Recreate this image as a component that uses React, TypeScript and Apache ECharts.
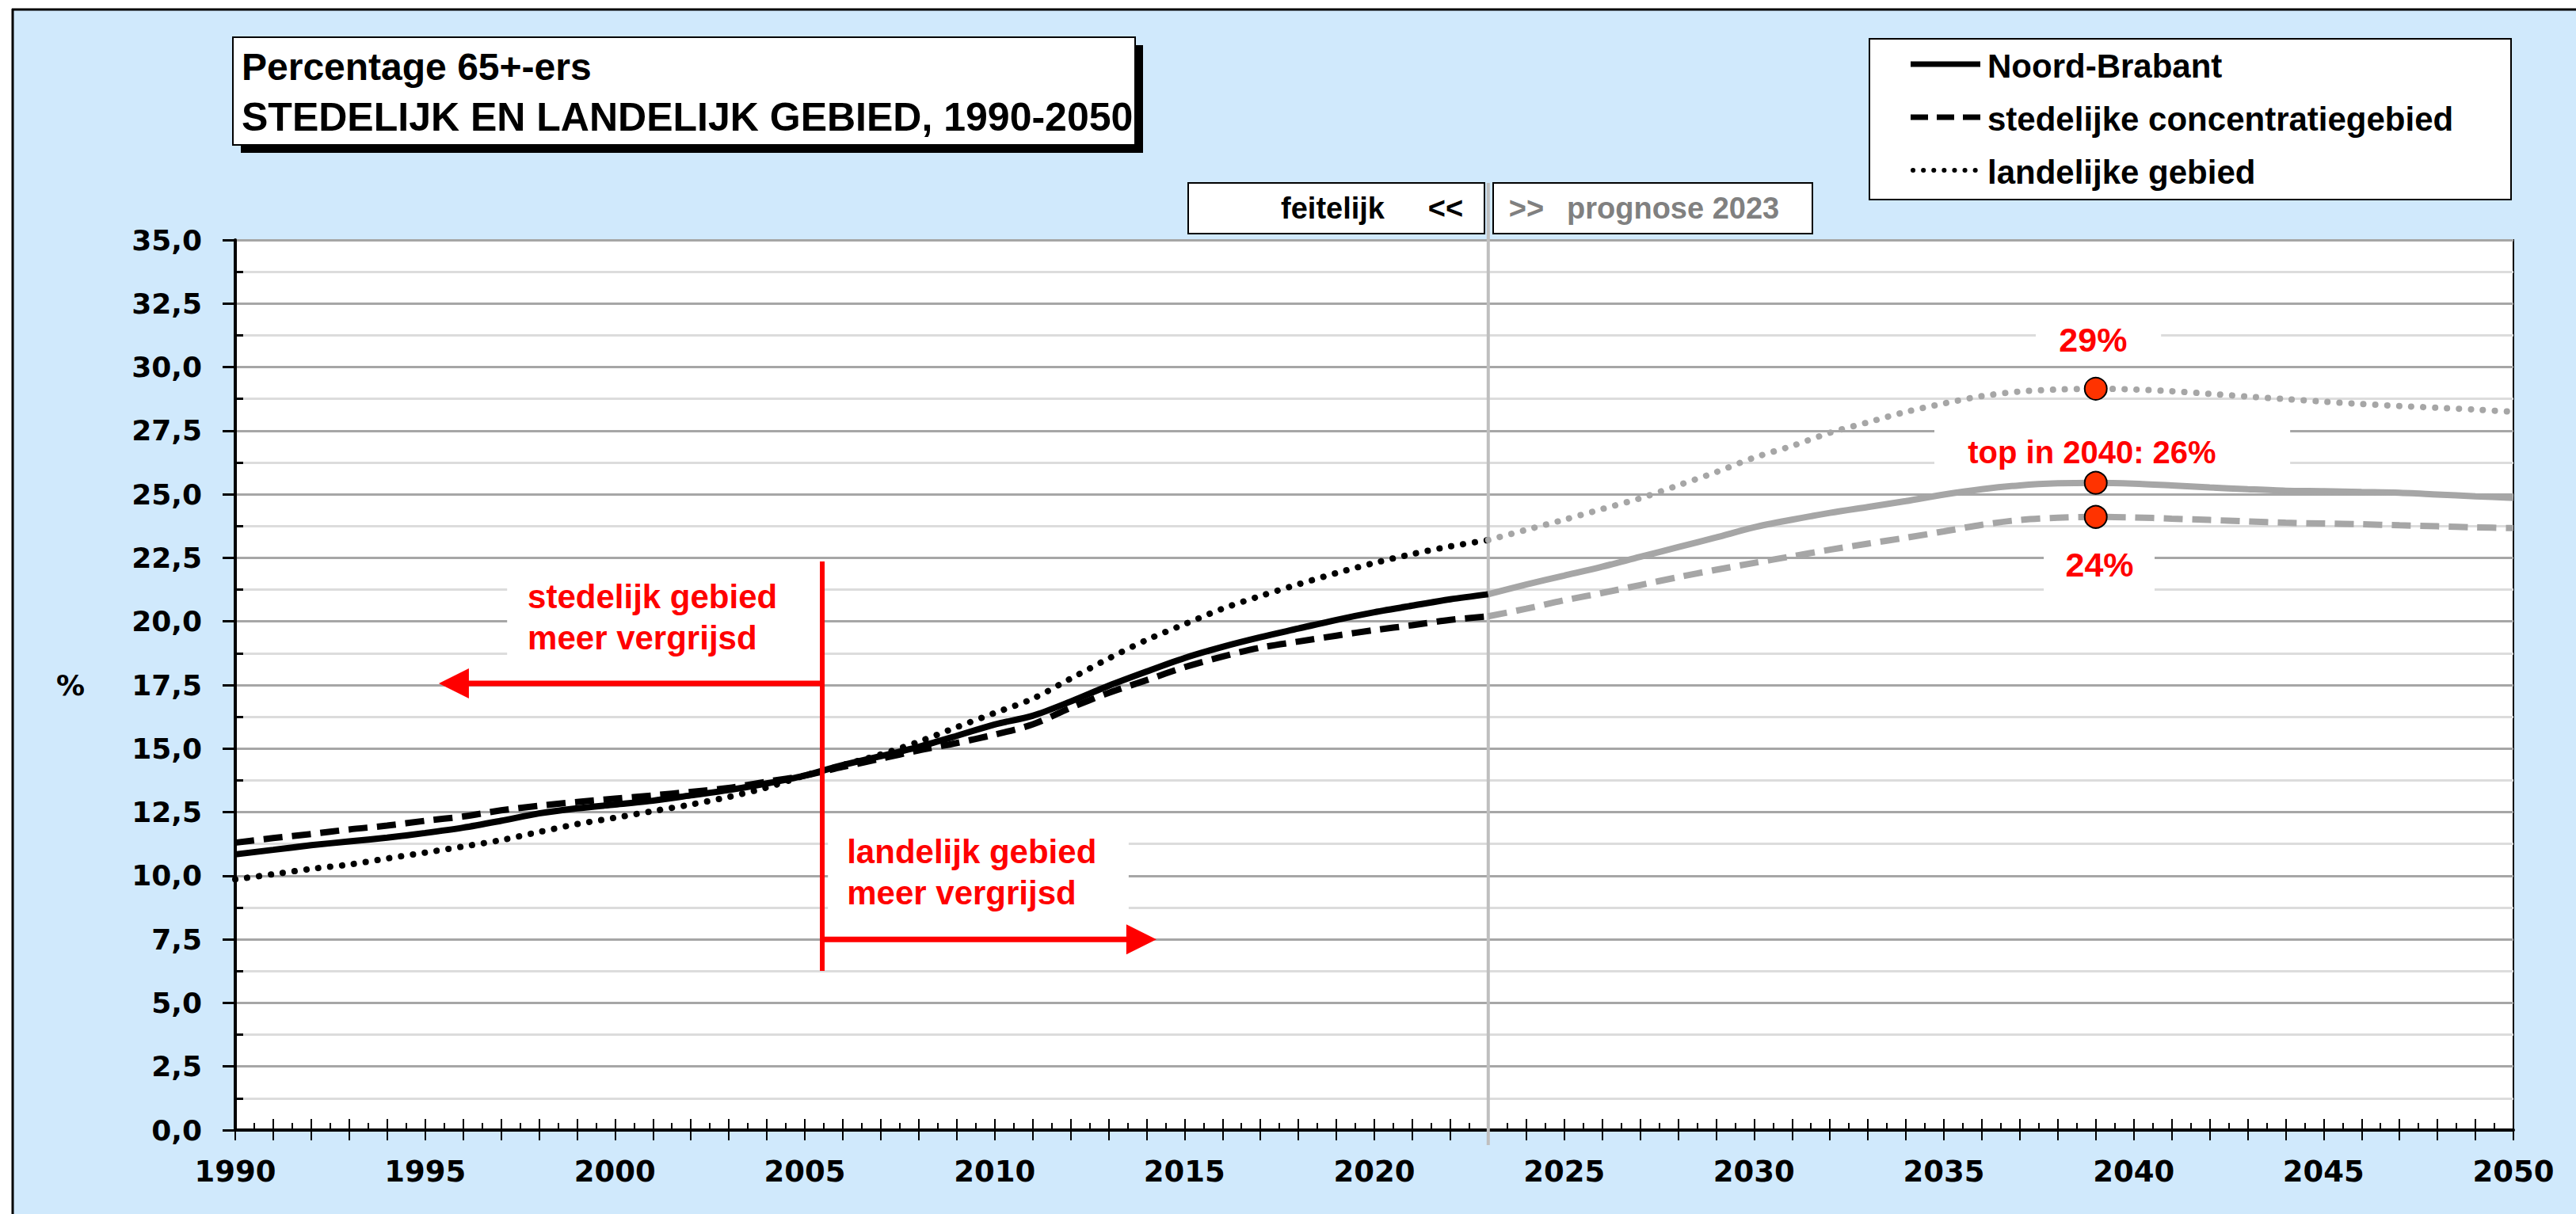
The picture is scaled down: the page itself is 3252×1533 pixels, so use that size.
import React, { useEffect, useRef } from 'react';
import * as echarts from 'echarts';

// ---------- data ----------
const seriesNames = ['Noord-Brabant', 'stedelijke concentratiegebied', 'landelijke gebied'];

const yearsHist = [1990, 1991, 1992, 1993, 1994, 1995, 1996, 1997, 1998, 1999, 2000, 2001, 2002, 2003, 2004, 2005, 2006, 2007, 2008, 2009, 2010, 2011, 2012, 2013, 2014, 2015, 2016, 2017, 2018, 2019, 2020, 2021, 2022, 2023];
const nbHist = [10.84, 11.02, 11.2, 11.35, 11.5, 11.68, 11.89, 12.16, 12.45, 12.65, 12.8, 12.95, 13.16, 13.37, 13.63, 13.94, 14.35, 14.7, 15.07, 15.5, 15.95, 16.29, 16.85, 17.47, 18.03, 18.56, 19.0, 19.38, 19.72, 20.06, 20.36, 20.62, 20.87, 21.07];
const stedHist = [11.3, 11.48, 11.64, 11.82, 11.97, 12.16, 12.33, 12.57, 12.75, 12.9, 13.03, 13.16, 13.3, 13.45, 13.7, 13.94, 14.28, 14.6, 14.93, 15.22, 15.55, 15.95, 16.6, 17.19, 17.69, 18.2, 18.62, 18.97, 19.21, 19.44, 19.66, 19.85, 20.06, 20.2];
const landHist = [9.86, 10.06, 10.27, 10.44, 10.68, 10.91, 11.15, 11.4, 11.72, 12.03, 12.28, 12.54, 12.8, 13.1, 13.47, 13.94, 14.35, 14.77, 15.27, 15.84, 16.4, 16.96, 17.75, 18.54, 19.27, 19.89, 20.5, 21.0, 21.46, 21.9, 22.3, 22.65, 22.95, 23.2];

const yearsProg = [2023, 2024, 2025, 2026, 2027, 2028, 2029, 2030, 2031, 2032, 2033, 2034, 2035, 2036, 2037, 2038, 2039, 2040, 2041, 2042, 2043, 2044, 2045, 2046, 2047, 2048, 2049, 2050];
const nbProg = [21.07, 21.45, 21.8, 22.15, 22.54, 22.92, 23.3, 23.7, 24.0, 24.27, 24.5, 24.73, 24.99, 25.2, 25.35, 25.43, 25.45, 25.42, 25.35, 25.27, 25.2, 25.14, 25.12, 25.09, 25.06, 24.99, 24.92, 24.86];
const stedProg = [20.2, 20.5, 20.83, 21.12, 21.43, 21.74, 22.03, 22.3, 22.56, 22.82, 23.06, 23.29, 23.54, 23.8, 23.99, 24.08, 24.11, 24.09, 24.04, 23.99, 23.93, 23.88, 23.85, 23.82, 23.78, 23.74, 23.7, 23.67];
const landProg = [23.2, 23.6, 24.0, 24.42, 24.84, 25.35, 25.87, 26.44, 26.9, 27.42, 27.83, 28.24, 28.57, 28.86, 29.04, 29.12, 29.15, 29.12, 29.05, 28.95, 28.84, 28.74, 28.64, 28.55, 28.47, 28.4, 28.33, 28.24];

const peakYear = 2039;
const splitYear = 2023;

const titleLines = ['Percentage 65+-ers', 'STEDELIJK EN LANDELIJK GEBIED, 1990-2050'];
const peakLabels = ['29%', 'top in 2040: 26%', '24%'];
const leftNote = ['stedelijk gebied', 'meer vergrijsd'];
const rightNote = ['landelijk gebied', 'meer vergrijsd'];

const FONT = '"Liberation Sans", Arial, sans-serif';
const AXFONT = '"DejaVu Sans", sans-serif';
const RED = '#ff0000';
const GRAY = '#a6a6a6';

function pair(xs: number[], ys: number[]) {
  return xs.map((x, i) => [x, ys[i]]);
}

function lineSeries(name: string, xs: number[], ys: number[], color: string, kind: 'solid' | 'dash' | 'dot') {
  const ls: any = { color, width: 8 };
  if (kind === 'dash') ls.type = [24, 12];
  if (kind === 'dot') {
    ls.type = [0.1, 15];
    ls.cap = 'round';
    ls.width = 8;
  }
  return {
    type: 'line',
    name,
    xAxisIndex: 0,
    yAxisIndex: 0,
    data: pair(xs, ys),
    showSymbol: false,
    symbol: 'none',
    smooth: 0.3,
    lineStyle: ls,
    z: 3,
  };
}

function txt(x: number, y: number, text: string, size: number, color: string, align: string, font: string, z = 10, vAlign = 'middle') {
  return {
    type: 'text',
    z,
    style: {
      x,
      y,
      text,
      fill: color,
      font: `bold ${size}px ${font}`,
      fontSize: size,
      fontWeight: 'bold',
      fontFamily: font,
      textAlign: align,
      align,
      textVerticalAlign: vAlign,
      verticalAlign: vAlign,
    },
  };
}

export default function App() {
  const ref = useRef<HTMLDivElement>(null);

  useEffect(() => {
    const chart = echarts.init(ref.current!, null, { renderer: 'svg' });
    const minorY: number[] = [];
    for (let v = 1.25; v < 35; v += 2.5) minorY.push(v);
    const idx = yearsProg.indexOf(peakYear);

    const tickStyle = { color: '#000', width: 2 };

    chart.setOption({
      animation: false,
      backgroundColor: '#d0e9fc',
      grid: {
        left: 297,
        right: 79,
        top: 303,
        bottom: 106,
        show: true,
        backgroundColor: '#ffffff',
        borderColor: '#000',
        borderWidth: 2,
      },
      xAxis: [
        {
          type: 'value',
          min: 1990,
          max: 2050,
          interval: 5,
          position: 'bottom',
          axisLine: { show: true, onZero: false, lineStyle: { color: '#000', width: 4 } },
          axisTick: { show: true, length: 13, lineStyle: tickStyle },
          minorTick: { show: true, splitNumber: 5, length: 13, lineStyle: tickStyle },
          splitLine: { show: false },
          axisLabel: {
            color: '#000',
            fontSize: 37,
            fontWeight: 'bold',
            fontFamily: AXFONT,
            margin: 34,
            formatter: (v: number) => String(Math.round(v)),
          },
        },
        {
          type: 'value',
          min: 1990,
          max: 2050,
          interval: 1,
          position: 'bottom',
          axisLine: { show: false, onZero: false },
          axisTick: { show: true, inside: true, length: 14, lineStyle: tickStyle },
          minorTick: { show: true, splitNumber: 2, length: 9, lineStyle: tickStyle },
          splitLine: { show: false },
          axisLabel: { show: false },
        },
      ],
      yAxis: [
        {
          type: 'value',
          min: 0,
          max: 35,
          interval: 2.5,
          position: 'left',
          axisLine: { show: true, lineStyle: { color: '#000', width: 4 } },
          axisTick: { show: true, length: 16, lineStyle: { color: '#000', width: 3 } },
          axisLabel: {
            color: '#000',
            fontSize: 36,
            fontWeight: 'bold',
            fontFamily: AXFONT,
            margin: 42,
            formatter: (v: number) => v.toFixed(1).replace('.', ','),
          },
          splitLine: { show: true, lineStyle: { color: GRAY, width: 3 } },
          minorTick: { show: true, splitNumber: 2, length: 0, lineStyle: { opacity: 0 } },
          minorSplitLine: { show: true, lineStyle: { color: '#dcdcdc', width: 3 } },
        },
        {
          type: 'value',
          min: 0,
          max: 35,
          interval: 1.25,
          position: 'left',
          axisLine: { show: false },
          axisTick: { show: true, inside: true, length: 10, customValues: minorY, lineStyle: { color: '#000', width: 3 } },
          axisLabel: { show: false },
          splitLine: { show: false },
        },
      ],
      series: [
        lineSeries(seriesNames[0], yearsHist, nbHist, '#000', 'solid'),
        lineSeries(seriesNames[1], yearsHist, stedHist, '#000', 'dash'),
        lineSeries(seriesNames[2], yearsHist, landHist, '#000', 'dot'),
        lineSeries(seriesNames[0] + ' prognose', yearsProg, nbProg, GRAY, 'solid'),
        lineSeries(seriesNames[1] + ' prognose', yearsProg, stedProg, GRAY, 'dash'),
        lineSeries(seriesNames[2] + ' prognose', yearsProg, landProg, GRAY, 'dot'),
        {
          type: 'scatter',
          name: 'top',
          xAxisIndex: 0,
          yAxisIndex: 0,
          data: [
            [peakYear, landProg[idx]],
            [peakYear, nbProg[idx]],
            [peakYear, stedProg[idx]],
          ],
          symbol: 'circle',
          symbolSize: 28,
          itemStyle: { color: '#ff3300', borderColor: '#000', borderWidth: 2, opacity: 1 },
          z: 6,
        },
      ],
    });

    const P = (x: number, y: number) => chart.convertToPixel({ xAxisIndex: 0, yAxisIndex: 0 }, [x, y]) as number[];
    const rectFromData = (x0: number, y0: number, x1: number, y1: number) => {
      const a = P(x0, y0);
      const b = P(x1, y1);
      return {
        type: 'rect',
        z: 1,
        shape: { x: Math.min(a[0], b[0]), y: Math.min(a[1], b[1]), width: Math.abs(b[0] - a[0]), height: Math.abs(b[1] - a[1]) },
        style: { fill: '#ffffff' },
      };
    };

    const g: any[] = [];
    // outer frame
    g.push({ type: 'rect', z: 0, shape: { x: 0, y: 0, width: 3252, height: 11 }, style: { fill: '#fff' } });
    g.push({ type: 'rect', z: 0, shape: { x: 0, y: 0, width: 15, height: 1533 }, style: { fill: '#fff' } });
    g.push({ type: 'line', z: 0, shape: { x1: 15, y1: 12, x2: 3252, y2: 12 }, style: { stroke: '#000', lineWidth: 3 } });
    g.push({ type: 'line', z: 0, shape: { x1: 16, y1: 11, x2: 16, y2: 1533 }, style: { stroke: '#000', lineWidth: 3 } });

    // title box
    g.push({ type: 'rect', z: 9, shape: { x: 304, y: 57, width: 1139, height: 136 }, style: { fill: '#000' } });
    g.push({ type: 'rect', z: 10, shape: { x: 294, y: 47, width: 1139, height: 136 }, style: { fill: '#fff', stroke: '#000', lineWidth: 2 } });
    g.push(txt(305, 84, titleLines[0], 48, '#000', 'left', FONT, 11));
    g.push(txt(305, 148, titleLines[1], 50, '#000', 'left', FONT, 11));

    // legend box
    g.push({ type: 'rect', z: 10, shape: { x: 2360, y: 49, width: 810, height: 203 }, style: { fill: '#fff', stroke: '#000', lineWidth: 2 } });
    const legY = [81, 148, 215];
    g.push({ type: 'line', z: 11, shape: { x1: 2412, y1: legY[0], x2: 2500, y2: legY[0] }, style: { stroke: '#000', lineWidth: 7 } });
    g.push({ type: 'line', z: 11, shape: { x1: 2412, y1: legY[1], x2: 2500, y2: legY[1] }, style: { stroke: '#000', lineWidth: 7, lineDash: [22, 11] } });
    g.push({ type: 'line', z: 11, shape: { x1: 2415, y1: legY[2], x2: 2500, y2: legY[2] }, style: { stroke: '#000', lineWidth: 6, lineDash: [0.1, 13], lineCap: 'round' } });
    seriesNames.forEach((n, i) => g.push(txt(2509, legY[i] + 2, n, 42, '#000', 'left', FONT, 11)));

    // feitelijk / prognose boxes
    g.push({ type: 'rect', z: 10, shape: { x: 1500, y: 231, width: 374, height: 64 }, style: { fill: '#fff', stroke: '#000', lineWidth: 2 } });
    g.push({ type: 'rect', z: 10, shape: { x: 1885, y: 231, width: 403, height: 64 }, style: { fill: '#fff', stroke: '#000', lineWidth: 2 } });
    g.push(txt(1748, 263, 'feitelijk', 38, '#000', 'right', FONT, 11));
    g.push(txt(1825, 263, '<<', 38, '#000', 'center', FONT, 11));
    g.push(txt(1927, 263, '>>', 38, '#808080', 'center', FONT, 11));
    g.push(txt(1978, 263, 'prognose ' + splitYear, 38, '#808080', 'left', FONT, 11));

    // split line
    const sx = P(splitYear, 0)[0];
    g.push({ type: 'line', z: 1, shape: { x1: sx, y1: 231, x2: sx, y2: 1446 }, style: { stroke: '#bfbfbf', lineWidth: 4 } });

    // % unit
    g.push(txt(89, P(1990, 17.5)[1], '%', 36, '#000', 'center', AXFONT, 11));

    // white label backgrounds
    g.push(rectFromData(1997.16, 22.33, 2005.4, 18.12));
    g.push(rectFromData(2005.61, 12.05, 2013.53, 8.0));
    g.push(rectFromData(2037.42, 31.98, 2040.72, 30.11));
    g.push(rectFromData(2034.75, 27.93, 2044.12, 25.81));
    g.push(rectFromData(2037.63, 22.95, 2040.55, 21.08));

    // peak labels
    const p29 = P(2038.93, 31.09);
    const pTop = P(2038.9, 26.67);
    const p24 = P(2039.1, 22.24);
    g.push(txt(p29[0], p29[1], peakLabels[0], 43, RED, 'center', FONT, 5));
    g.push(txt(pTop[0], pTop[1], peakLabels[1], 40, RED, 'center', FONT, 5));
    g.push(txt(p24[0], p24[1], peakLabels[2], 43, RED, 'center', FONT, 5));

    // notes
    const l1 = P(1997.7, 20.96);
    const l2 = P(1997.7, 19.34);
    g.push(txt(l1[0], l1[1], leftNote[0], 42, RED, 'left', FONT, 5));
    g.push(txt(l2[0], l2[1], leftNote[1], 42, RED, 'left', FONT, 5));
    const r1 = P(2006.11, 10.93);
    const r2 = P(2006.11, 9.34);
    g.push(txt(r1[0], r1[1], rightNote[0], 42, RED, 'left', FONT, 5));
    g.push(txt(r2[0], r2[1], rightNote[1], 42, RED, 'left', FONT, 5));

    // red divider and arrows
    const vTop = P(2005.46, 22.36);
    const vBot = P(2005.46, 6.26);
    g.push({ type: 'line', z: 5, shape: { x1: vTop[0], y1: vTop[1], x2: vBot[0], y2: vBot[1] }, style: { stroke: RED, lineWidth: 6 } });
    const la = P(1995.36, 17.56);
    g.push({ type: 'line', z: 5, shape: { x1: vTop[0], y1: la[1], x2: la[0] + 36, y2: la[1] }, style: { stroke: RED, lineWidth: 7 } });
    g.push({ type: 'polygon', z: 5, shape: { points: [[la[0], la[1]], [la[0] + 38, la[1] - 19], [la[0] + 38, la[1] + 19]] }, style: { fill: RED } });
    const ra = P(2014.26, 7.5);
    g.push({ type: 'line', z: 5, shape: { x1: vTop[0], y1: ra[1], x2: ra[0] - 36, y2: ra[1] }, style: { stroke: RED, lineWidth: 7 } });
    g.push({ type: 'polygon', z: 5, shape: { points: [[ra[0], ra[1]], [ra[0] - 38, ra[1] - 19], [ra[0] - 38, ra[1] + 19]] }, style: { fill: RED } });

    chart.setOption({ graphic: { elements: g } });

    return () => {
      chart.dispose();
    };
  }, []);

  return <div ref={ref} style={{ position: 'absolute', left: 0, top: 0, width: 3252, height: 1533 }} />;
}
